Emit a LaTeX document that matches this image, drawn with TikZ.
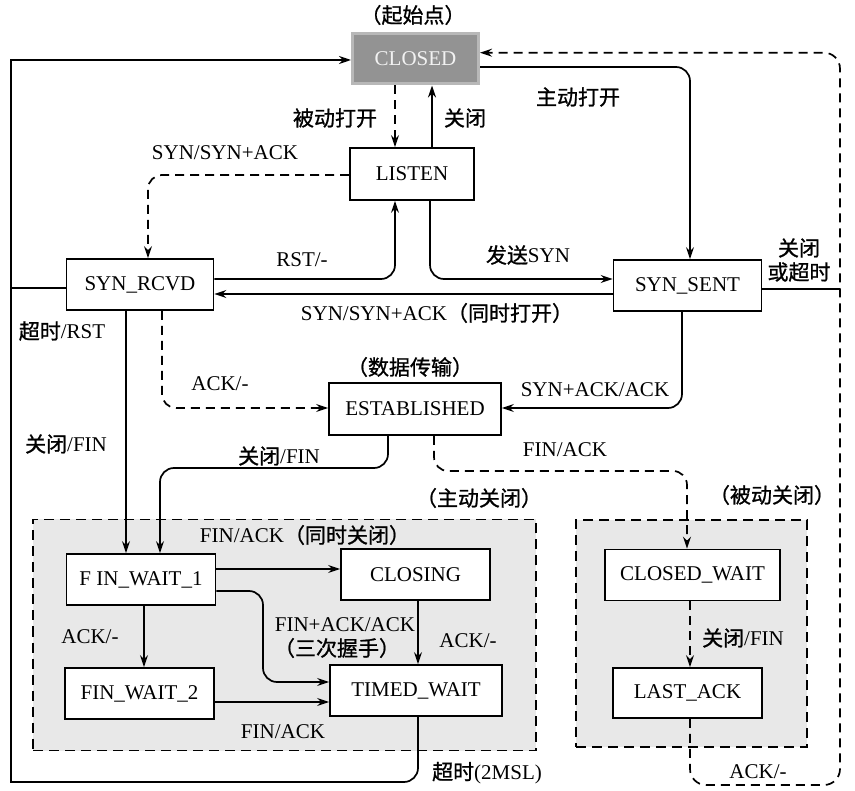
\documentclass[tikz,border=0pt]{standalone}
\usepackage{fontspec}
\setmainfont{Liberation Serif}
\newfontfamily\cjk[FakeBold=1]{Noto Sans CJK SC}
\usetikzlibrary{arrows.meta}
\definecolor{grpfill}{HTML}{E8E8E8}
\definecolor{closedfill}{HTML}{939393}
\definecolor{closededge}{HTML}{B8B8B8}
\definecolor{closedtext}{HTML}{F2F2F2}
\newcommand{\fs}{\fontsize{21}{25}\selectfont}
\begin{document}
\begin{tikzpicture}[x=1pt,y=-1pt,
  st/.style={draw, line width=1.8pt, fill=white, inner sep=0pt, font=\fs},
  lab/.style={inner sep=0pt, font=\fs},
  grp/.style={draw, fill=grpfill, line width=1.6pt, dash pattern=on 10pt off 6pt, inner sep=0pt},
  con/.style={line width=1.7pt, rounded corners=14pt},
  arr/.style={con, -{Stealth[length=12pt,width=8pt,inset=4pt]}},
  dsh/.style={dash pattern=on 9pt off 6pt},
]
\useasboundingbox[fill=white] (0,0) rectangle (855,791);

% groups
\node[grp, minimum width=503, minimum height=231] (gact) at (284.5,635) {};
\node[grp, minimum width=231, minimum height=227] (gpas) at (691.5,633.5) {};

% states
\node[draw=closededge, line width=3pt, fill=closedfill, text=closedtext, inner sep=0pt, font=\fs,
      minimum width=126, minimum height=50] (closed) at (415.5,59) {CLOSED};
\node[st, minimum width=124, minimum height=52] (listen) at (412,174) {LISTEN};
\node[st, minimum width=147, minimum height=51] (rcvd) at (140,284.5) {SYN\_RCVD};
\node[st, minimum width=148, minimum height=51] (sent) at (687.5,285.5) {SYN\_SENT};
\node[st, minimum width=172, minimum height=52] (est) at (415,409) {ESTABLISHED};
\node[st, minimum width=149, minimum height=51] (fw1) at (141,579.5) {F IN\_WAIT\_1};
\node[st, minimum width=149, minimum height=51] (closing) at (415.5,574.5) {CLOSING};
\node[st, minimum width=149, minimum height=51] (fw2) at (139.5,693.5) {FIN\_WAIT\_2};
\node[st, minimum width=172, minimum height=51] (tw) at (416,690.5) {TIMED\_WAIT};
\node[st, minimum width=175, minimum height=51] (cw) at (692.5,575) {CLOSED\_WAIT};
\node[st, minimum width=149, minimum height=50] (la) at (687.5,693) {LAST\_ACK};

% guide coordinates
\coordinate (x11) at (11,0);
\coordinate (x126) at (126,0);
\coordinate (x144) at (144,0);
\coordinate (x148) at (148,0);
\coordinate (x160) at (160,0);
\coordinate (x162) at (162,0);
\coordinate (x263) at (263,0);
\coordinate (x388) at (388,0);
\coordinate (x395) at (395,0);
\coordinate (x418) at (418,0);
\coordinate (x430) at (430,0);
\coordinate (x432) at (432,0);
\coordinate (x434) at (434,0);
\coordinate (x682) at (682,0);
\coordinate (x687) at (687,0);
\coordinate (x690) at (690,0);
\coordinate (x840) at (840,0);
\coordinate (y52) at (0,52.7);
\coordinate (y67) at (0,67);
\coordinate (y175) at (0,175);
\coordinate (y279) at (0,279);
\coordinate (y288) at (0,288);
\coordinate (y289) at (0,289);
\coordinate (y294) at (0,294);
\coordinate (y408) at (0,408);
\coordinate (y468) at (0,468);
\coordinate (y471) at (0,471);
\coordinate (y569) at (0,569);
\coordinate (y591) at (0,591);
\coordinate (y682) at (0,682);
\coordinate (y702) at (0,702);
\coordinate (cBL) at (11,782);
\coordinate (cTL) at (11,60);
\coordinate (cBR) at (840,785);

% connectors
\draw[arr,dsh] (closed.south -| x395) -- (listen.north -| x395);
\draw[arr] (listen.north -| x432) -- (closed.south -| x432);
\draw[arr] (closed.east |- y67) -| (sent.north -| x690);
\draw[arr,dsh, rounded corners=16pt] (la.south -| x690) |- (cBR) |- (closed.east |- y52);
\draw[con, line cap=rect] (tw.south -| x418) |- (cBL);
\draw[arr, sharp corners] (cBL) -- (cTL) -- (closed.west |- cTL);
\draw[con] (rcvd.west |- y288) -- (x11 |- y288);
\draw[con] (sent.east |- y289) -- (x840 |- y289);
\draw[arr,dsh] (listen.west |- y175) -| (rcvd.north -| x148);
\draw[arr] (rcvd.east |- y279) -| (listen.south -| x395);
\draw[arr] (listen.south -| x430) |- (sent.west |- y279);
\draw[arr] (sent.west |- y294) -- (rcvd.east |- y294);
\draw[arr] (sent.south -| x682) |- (est.east |- y408);
\draw[arr,dsh] (rcvd.south -| x162) |- (est.west |- y408);
\draw[arr] (rcvd.south -| x126) -- (fw1.north -| x126);
\draw[arr] (est.south -| x388) |- (x160 |- y468) -- (fw1.north -| x160);
\draw[arr,dsh] (est.south -| x434) |- (x687 |- y471) -- (cw.north -| x687);
\draw[arr] (fw1.east |- y569) -- (closing.west |- y569);
\draw[arr] (fw1.east |- y591) -| (x263 |- y682) -- (tw.west |- y682);
\draw[arr] (closing.south -| x418) -- (tw.north -| x418);
\draw[arr] (fw1.south -| x144) -- (fw2.north -| x144);
\draw[arr] (fw2.east |- y702) -- (tw.west |- y702);
\draw[arr,dsh] (cw.south -| x690) -- (la.north -| x690);

% labels
\node[lab] (tstart) at (413,15) {\cjk （起始点）};
\node[lab] (lpassive) at (335,118) {\cjk 被动打开};
\node[lab] (lclose1) at (465,118) {\cjk 关闭};
\node[lab] (lactive) at (578,97) {\cjk 主动打开};
\node[lab] (lsynack) at (225,153) {SYN/SYN+ACK};
\node[lab] (lrst) at (302,260) {RST/-};
\node[lab] (lsendsyn) at (528,255) {{\cjk 发送}SYN};
\node[lab, align=center] (lcloseto) at (799,260) {{\cjk 关闭}\\[-1pt]{\cjk 或超时}};
\node[lab] (lsimopen) at (437,313) {SYN/SYN+ACK{\cjk （同时打开）}};
\node[lab] (ltimeout) at (62,331) {{\cjk 超时}/RST};
\node[lab] (ldata) at (410,367) {\cjk （数据传输）};
\node[lab] (lackdash) at (220,384) {ACK/-};
\node[lab] (lsynackack) at (595,390) {SYN+ACK/ACK};
\node[lab] (lclosefin1) at (66,444) {{\cjk 关闭}/FIN};
\node[lab] (lclosefin2) at (279,456) {{\cjk 关闭}/FIN};
\node[lab] (lfinack) at (565,450) {FIN/ACK};
\node[lab] (lactclose) at (479,498) {\cjk （主动关闭）};
\node[lab] (lpasclose) at (772,495) {\cjk （被动关闭）};
\node[lab] (lsimclose) at (305,535) {FIN/ACK{\cjk （同时关闭）}};
\node[lab] (lfa) at (345,625) {FIN+ACK/ACK};
\node[lab] (lthree) at (337,648) {\cjk （三次握手）};
\node[lab] (lack2) at (468,641) {ACK/-};
\node[lab] (lack3) at (90,637) {ACK/-};
\node[lab] (lfinack2) at (283,732) {FIN/ACK};
\node[lab] (l2msl) at (487,773) {{\cjk 超时}(2MSL)};
\node[lab] (lclosefin3) at (743,638) {{\cjk 关闭}/FIN};
\node[lab] (lack4) at (758,772) {ACK/-};
\end{tikzpicture}
\end{document}
